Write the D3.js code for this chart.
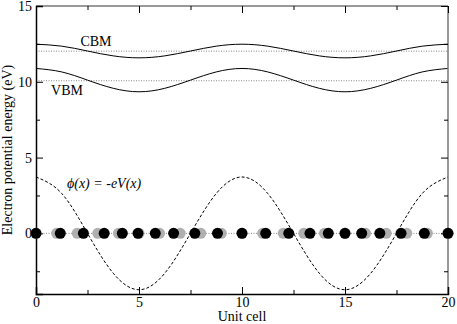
<!DOCTYPE html>
<html>
<head>
<meta charset="utf-8">
<script src="https://cdn.jsdelivr.net/npm/d3@7"></script>
<style>
  body { margin: 0; background: #fff; }
  svg { display: block; }
  svg text { font-family: "Liberation Serif", "Times New Roman", Times, serif !important; fill: #000; }
</style>
</head>
<body>
<script>

// values
let lattice = [0, 1, 2, 3, 4, 5, 6, 7, 8, 9, 10, 11, 12, 13, 14, 15, 16, 17, 18, 19, 20]
let atoms = [0, 1.18, 2.30, 3.31, 4.19, 4.95, 5.79, 6.68, 7.71, 8.81, 10.0, 11.15, 12.27, 13.30, 14.19, 15.0, 15.81, 16.69, 17.72, 18.85, 20.0]

let sampleX = [0, 1.25, 2.5, 3.75, 5, 6.25, 7.5, 8.75, 10, 11.25, 12.5, 13.75, 15, 16.25, 17.5, 18.75, 20]
let cbm = [12.48, 12.35, 12.03, 11.71, 11.58, 11.71, 12.03, 12.35, 12.48, 12.35, 12.03, 11.71, 11.58, 11.71, 12.03, 12.35, 12.48]
let vbm = [10.88, 10.65, 10.11, 9.57, 9.34, 9.57, 10.11, 10.65, 10.88, 10.65, 10.11, 9.57, 9.34, 9.57, 10.11, 10.65, 10.88]
let phi = [3.72, 2.63, 0, -2.63, -3.72, -2.63, 0, 2.63, 3.72, 2.63, 0, -2.63, -3.72, -2.63, 0, 2.63, 3.72]

let cbmLevel = 12.02
let vbmLevel = 10.07

let xTicks = [0, 5, 10, 15, 20]
let yTicks = [0, 5, 10, 15]
let xMinor = [2.5, 7.5, 12.5, 17.5]
let yMinor = [-2.5, 2.5, 7.5, 12.5]

let width = 457, height = 324
let margin = {left: 36, right: 9, top: 6, bottom: 30}
let serif = "'Liberation Serif', 'Times New Roman', Times, serif"

let svg = d3.select("body").append("svg")
            .attr("width", width)
            .attr("height", height)
            .attr("font-family", serif)

let x = d3.scaleLinear().domain([0, 20]).range([margin.left, width - margin.right])
let y = d3.scaleLinear().domain([-4, 15]).range([height - margin.bottom, margin.top])

let x0 = x(0), x1 = x(20), y0 = y(-4), y1 = y(15)

// dotted reference levels
let levels = [cbmLevel, vbmLevel, 0]
svg.selectAll(".level")
   .data(levels)
   .enter()
   .append("line")
   .attr("class", "level")
   .attr("x1", x0).attr("x2", x1)
   .attr("y1", d => y(d)).attr("y2", d => y(d))
   .style("stroke", "#888")
   .style("stroke-width", 1)
   .style("stroke-dasharray", "1,1.5")

let line = d3.line().curve(d3.curveNatural)

let bands = [cbm, vbm]
svg.selectAll(".band")
   .data(bands)
   .enter()
   .append("path")
   .attr("class", "band")
   .attr("d", d => line(d.map((v, i) => [x(sampleX[i]), y(v)])))
   .style("fill", "none")
   .style("stroke", "#000")
   .style("stroke-width", 1)

svg.append("path")
   .attr("d", line(phi.map((v, i) => [x(sampleX[i]), y(v)])))
   .style("fill", "none")
   .style("stroke", "#000")
   .style("stroke-width", 1)
   .style("stroke-dasharray", "3,2")

// axes frame
svg.append("line").attr("x1", x0).attr("x2", x1).attr("y1", y1).attr("y2", y1)
   .style("stroke", "#777").style("stroke-width", 1.5)
svg.append("line").attr("x1", x1).attr("x2", x1).attr("y1", y0).attr("y2", y1)
   .style("stroke", "#777").style("stroke-width", 1.5)

let xAxis = d3.axisBottom(x).tickValues(xTicks).tickSize(-7).tickPadding(3).tickFormat(d3.format("d"))
let yAxis = d3.axisLeft(y).tickValues(yTicks).tickSize(-7).tickPadding(4).tickFormat(d3.format("d"))

let gx = svg.append("g").attr("transform", "translate(0," + y0 + ")").call(xAxis)
let gy = svg.append("g").attr("transform", "translate(" + x0 + ",0)").call(yAxis)

;[gx, gy].forEach(function(g) {
  g.attr("font-family", serif).attr("font-size", 14)
  g.select(".domain").style("stroke", "#000").style("stroke-width", 1.5)
  g.selectAll(".tick line").style("stroke", "#000")
})

// opposite-side ticks
svg.append("g").attr("transform", "translate(0," + y1 + ")")
   .call(d3.axisTop(x).tickValues(xTicks).tickSize(-7).tickFormat(""))
   .call(g => g.select(".domain").remove())
svg.append("g").attr("transform", "translate(" + x1 + ",0)")
   .call(d3.axisRight(y).tickValues(yTicks).tickSize(-7).tickFormat(""))
   .call(g => g.select(".domain").remove())

// minor ticks
svg.append("g").attr("transform", "translate(0," + y0 + ")")
   .call(d3.axisBottom(x).tickValues(xMinor).tickSize(-4).tickFormat(""))
   .call(g => g.select(".domain").remove())
svg.append("g").attr("transform", "translate(0," + y1 + ")")
   .call(d3.axisTop(x).tickValues(xMinor).tickSize(-4).tickFormat(""))
   .call(g => g.select(".domain").remove())
svg.append("g").attr("transform", "translate(" + x0 + ",0)")
   .call(d3.axisLeft(y).tickValues(yMinor).tickSize(-4).tickFormat(""))
   .call(g => g.select(".domain").remove())
svg.append("g").attr("transform", "translate(" + x1 + ",0)")
   .call(d3.axisRight(y).tickValues(yMinor).tickSize(-4).tickFormat(""))
   .call(g => g.select(".domain").remove())

// lattice sites (grey) and displaced atoms (black)
svg.selectAll(".site")
   .data(lattice)
   .enter()
   .append("circle")
   .attr("class", "site")
   .attr("cx", d => x(d))
   .attr("cy", y(0))
   .attr("r", 5.5)
   .style("fill", "#afafaf")

svg.selectAll(".atom")
   .data(atoms)
   .enter()
   .append("circle")
   .attr("class", "atom")
   .attr("cx", d => x(d))
   .attr("cy", y(0))
   .attr("r", 5.5)
   .style("fill", "#000")

// labels
svg.append("text").attr("x", 96).attr("y", 46).attr("text-anchor", "middle")
   .attr("font-size", 14).text("CBM")
svg.append("text").attr("x", 67).attr("y", 95).attr("text-anchor", "middle")
   .attr("font-size", 14).text("VBM")
svg.append("text").attr("x", 67).attr("y", 188)
   .attr("font-size", 14).attr("font-style", "italic").text("\u03d5(x) = -eV(x)")

svg.append("text").attr("x", x(10)).attr("y", 321).attr("text-anchor", "middle")
   .attr("font-size", 14).text("Unit cell")
svg.append("text").attr("transform", "translate(12," + ((y0 + y1) / 2) + ") rotate(-90)")
   .attr("text-anchor", "middle")
   .attr("font-size", 14).text("Electron potential energy (eV)")

</script>
</body>
</html>
